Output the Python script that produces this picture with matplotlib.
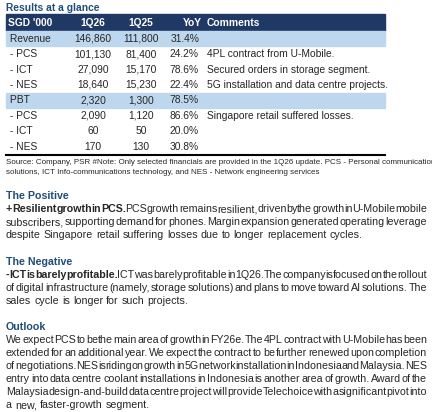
import matplotlib
matplotlib.use("Agg")
import matplotlib.pyplot as plt
from matplotlib.patches import Rectangle

rows = [" Revenue", " - PCS", " - ICT", " - NES", " PBT", " - PCS", " - ICT", " - NES"]
q126 = [146860, 101130, 27090, 18640, 2320, 2090, 60, 170]
q125 = [111800, 81400, 15170, 15230, 1300, 1120, 50, 130]
yoy = [31.4, 24.2, 78.6, 22.4, 78.5, 86.6, 20.0, 30.8]
comments = ["", "4PL contract from U-Mobile.", "Secured orders in storage segment.",
            "5G installation and data centre projects.", "", "Singapore retail suffered losses.", "", ""]
highlight = [True, False, False, False, True, False, False, False]
headers = ["SGD '000", "1Q26", "1Q25", "YoY", "Comments"]

W, H = 432, 412
fig = plt.figure(figsize=(W/100, H/100), dpi=100)
ax = fig.add_axes([0, 0, 1, 1])
ax.set_xlim(0, W); ax.set_ylim(H, 0); ax.axis("off")
FONT = "Liberation Sans"
NAVY = "#1F3864"; LIGHT = "#BDD7EE"; HEAD = "#1F4E79"; TXT = "#262626"
fs = 7.7
tfs = 7.4

ax.text(6, 11, "Results at a glance", fontsize=tfs, fontweight="bold", color=HEAD, family=FONT, va="baseline")
ax.add_patch(Rectangle((6, 14), 379, 17, color=NAVY))
hx = [(8, "left"), (93, "center"), (141, "center"), (192, "center"), (207, "left")]
for (x, ha), h in zip(hx, headers):
    ax.text(x, 25.5, h, fontsize=tfs, fontweight="bold", color="white", family=FONT, ha=ha, va="baseline")
rh = 15.4
for i, r in enumerate(rows):
    y0 = 31 + i*rh
    if highlight[i]:
        ax.add_patch(Rectangle((6, y0), 379, rh, color=LIGHT))
    yb = y0 + rh/2 + 3
    ax.text(7, yb, r, fontsize=tfs, color=TXT, family=FONT, va="baseline")
    ax.text(93, yb, f"{q126[i]:,}", fontsize=tfs, color=TXT, family=FONT, ha="center", va="baseline")
    ax.text(141, yb, f"{q125[i]:,}", fontsize=tfs, color=TXT, family=FONT, ha="center", va="baseline")
    ax.text(199, yb, f"{yoy[i]:.1f}%", fontsize=tfs, color=TXT, family=FONT, ha="right", va="baseline")
    ax.text(207, yb, comments[i], fontsize=tfs, color=TXT, family=FONT, va="baseline")
ax.plot([6, 385], [154.5, 154.5], color="black", lw=1.5)
ax.text(6, 163.5, "Source: Company, PSR #Note: Only selected financials are provided in the 1Q26 update. PCS - Personal communications",
        fontsize=5.8, color=TXT, family=FONT, va="baseline")
ax.text(6, 173.5, "solutions, ICT Info-communications technology, and NES - Network engineering services",
        fontsize=5.8, color=TXT, family=FONT, va="baseline")

fig.canvas.draw()
renderer = fig.canvas.get_renderer()
def width(s, bold=False):
    t = ax.text(0, 0, s, fontsize=fs, family=FONT, fontweight="bold" if bold else "normal")
    w = t.get_window_extent(renderer).width
    t.remove()
    return w

def para(y, lines, justify_last=False, lead=None):
    x0, x1 = 6, 427
    for li, line in enumerate(lines):
        words = line.split(" ")
        bold_n = 0
        if li == 0 and lead:
            bold_n = len(lead.split(" "))
        wl = [width(w, k < bold_n) for k, w in enumerate(words)]
        last = li == len(lines)-1
        if last and not justify_last:
            gap = width("a b") - width("ab")
        else:
            gap = (x1 - x0 - sum(wl)) / max(len(words)-1, 1)
        x = x0
        for k, w in enumerate(words):
            ax.text(x, y + li*13 + 3, w, fontsize=fs, family=FONT, color=TXT, va="baseline",
                    fontweight="bold" if k < bold_n else "normal")
            x += wl[k] + gap

def heading(y, s):
    ax.text(6, y + 3, s, fontsize=fs, fontweight="bold", color=HEAD, family=FONT, va="baseline")

heading(196, "The Positive")
para(209, ["+ Resilient growth in PCS. PCS growth remains resilient, driven by the growth in U-Mobile mobile",
           "subscribers, supporting demand for phones. Margin expansion generated operating leverage",
           "despite Singapore retail suffering losses due to longer replacement cycles."],
     lead="+ Resilient growth in PCS.")
heading(262, "The Negative")
para(275, ["- ICT is barely profitable. ICT was barely profitable in 1Q26. The company is focused on the rollout",
           "of digital infrastructure (namely, storage solutions) and plans to move toward AI solutions. The",
           "sales cycle is longer for such projects."],
     lead="- ICT is barely profitable.")
heading(327, "Outlook")
para(340, ["We expect PCS to be the main area of growth in FY26e. The 4PL contract with U-Mobile has been",
           "extended for an additional year. We expect the contract to be further renewed upon completion",
           "of negotiations. NES is riding on growth in 5G network installation in Indonesia and Malaysia. NES",
           "entry into data centre coolant installations in Indonesia is another area of growth. Award of the",
           "Malaysia design-and-build data centre project will provide Telechoice with a significant pivot into",
           "a new, faster-growth segment."])

fig.savefig("out.png", dpi=100)
